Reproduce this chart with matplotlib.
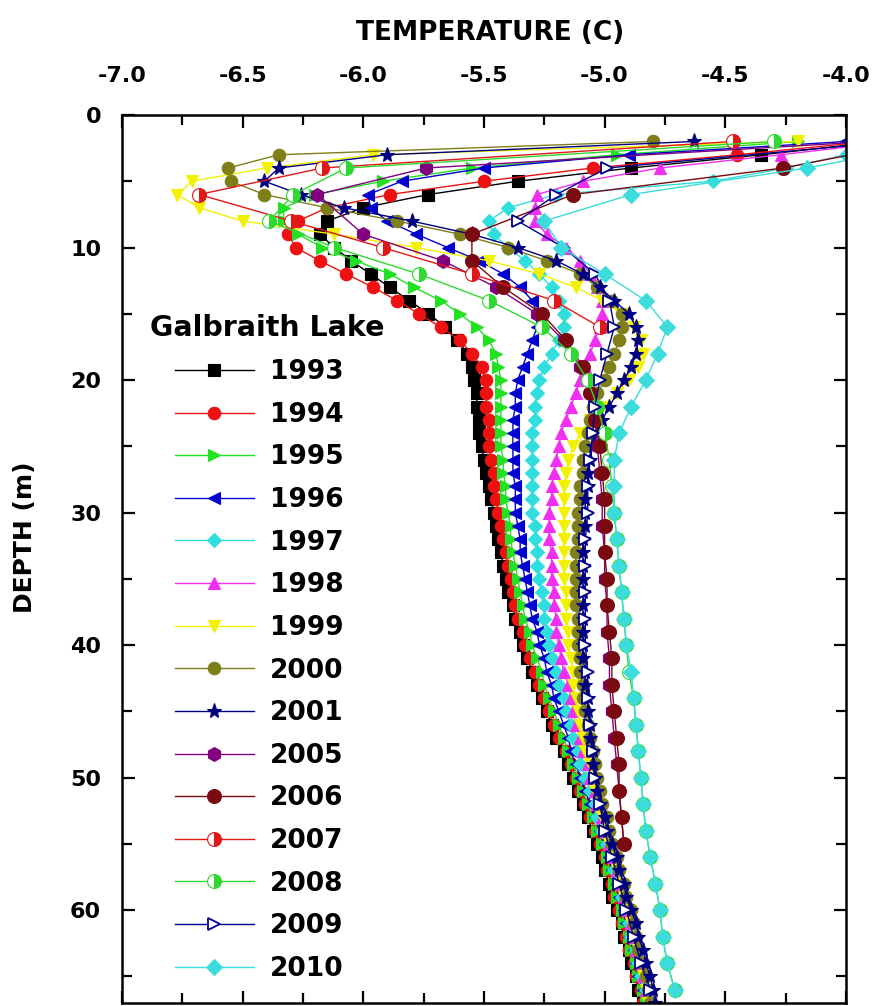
import matplotlib
matplotlib.use('Agg')
from matplotlib import pyplot as plt
from matplotlib.ticker import MultipleLocator

# depths (m)
depth_dense = list(range(2, 68))          # 1993-2001, 1 m spacing
depth_0506 = [2, 4, 6, 9, 11, 13, 15, 17, 19, 21, 23, 25, 27, 29, 31, 33, 35,
              37, 39, 41, 43, 45, 47, 49, 51, 53, 55]
depth_2007 = [2, 4, 6, 8, 10, 12, 14, 16]
depth_even = list(range(2, 67, 2))        # 2008-2010, 2 m spacing

# temperatures (C)
t1993 = [-3.85, -4.35, -4.89, -5.36, -5.73, -6.00, -6.15, -6.18, -6.12, -6.05, -5.97, -5.89, -5.81, -5.73, -5.66, -5.61, -5.57, -5.55,
         -5.54, -5.53, -5.53, -5.52, -5.52, -5.51, -5.50, -5.49, -5.48, -5.47,
         -5.46, -5.45, -5.44, -5.43, -5.42, -5.41, -5.40, -5.38, -5.37, -5.35,
         -5.34, -5.32, -5.30, -5.28, -5.26, -5.24, -5.22, -5.20, -5.17, -5.15,
         -5.13, -5.11, -5.09, -5.07, -5.05, -5.03, -5.01, -5.00, -4.98, -4.97,
         -4.95, -4.93, -4.92, -4.90, -4.89, -4.87, -4.86, -4.84]
t1994 = [-3.90, -4.45, -5.05, -5.50, -5.89, -6.15, -6.27, -6.31, -6.28, -6.18, -6.07, -5.96, -5.86, -5.77, -5.68, -5.60, -5.55, -5.51,
         -5.49, -5.49, -5.49, -5.48, -5.48, -5.48, -5.47, -5.46, -5.46, -5.45,
         -5.44, -5.43, -5.42, -5.41, -5.40, -5.39, -5.38, -5.37, -5.36, -5.34,
         -5.33, -5.31, -5.29, -5.27, -5.25, -5.23, -5.21, -5.19, -5.16, -5.14,
         -5.12, -5.10, -5.08, -5.06, -5.04, -5.02, -5.00, -4.99, -4.97, -4.96,
         -4.94, -4.93, -4.91, -4.90, -4.88, -4.87, -4.85, -4.84]
t1995 = [-4.20, -4.95, -5.55, -5.92, -6.20, -6.33, -6.33, -6.27, -6.17, -6.03, -5.89, -5.79, -5.68, -5.60, -5.53, -5.48, -5.45, -5.44,
         -5.43, -5.43, -5.43, -5.43, -5.43, -5.43, -5.42, -5.42, -5.41, -5.41,
         -5.40, -5.39, -5.39, -5.38, -5.37, -5.36, -5.35, -5.34, -5.33, -5.31,
         -5.30, -5.28, -5.26, -5.25, -5.23, -5.21, -5.19, -5.17, -5.15, -5.13,
         -5.11, -5.09, -5.07, -5.05, -5.03, -5.01, -4.99, -4.98, -4.96, -4.95,
         -4.93, -4.92, -4.90, -4.89, -4.87, -4.86, -4.84, -4.83]
t1996 = [-4.00, -4.90, -5.50, -5.84, -5.98, -5.97, -5.90, -5.78, -5.65, -5.52, -5.42, -5.35, -5.30, -5.28, -5.28, -5.30, -5.32, -5.34,
         -5.36, -5.37, -5.37, -5.38, -5.38, -5.38, -5.38, -5.38, -5.37, -5.37,
         -5.37, -5.36, -5.35, -5.35, -5.34, -5.33, -5.32, -5.31, -5.30, -5.28,
         -5.27, -5.25, -5.24, -5.22, -5.21, -5.19, -5.17, -5.15, -5.14, -5.12,
         -5.10, -5.08, -5.06, -5.04, -5.02, -5.00, -4.98, -4.97, -4.95, -4.94,
         -4.92, -4.91, -4.90, -4.88, -4.87, -4.86, -4.84, -4.83]
t1997 = [-3.70, -4.00, -4.25, -4.55, -5.20, -5.40, -5.48, -5.46, -5.40, -5.33, -5.27, -5.22, -5.19, -5.17, -5.17, -5.19, -5.22, -5.25,
         -5.27, -5.28, -5.29, -5.29, -5.30, -5.30, -5.30, -5.30, -5.30, -5.30,
         -5.30, -5.29, -5.29, -5.28, -5.28, -5.27, -5.26, -5.25, -5.25, -5.24,
         -5.23, -5.22, -5.20, -5.19, -5.17, -5.16, -5.14, -5.13, -5.11, -5.10,
         -5.08, -5.06, -5.04, -5.03, -5.01, -4.99, -4.97, -4.96, -4.94, -4.93,
         -4.91, -4.90, -4.89, -4.87, -4.86, -4.85, -4.83, -4.82]
t1998 = [-3.80, -4.27, -4.77, -5.09, -5.28, -5.29, -5.29, -5.24, -5.16, -5.10, -5.06, -5.03, -5.01, -5.01, -5.02, -5.04, -5.06, -5.08,
         -5.10, -5.12, -5.14, -5.16, -5.18, -5.19, -5.20, -5.21, -5.22, -5.22,
         -5.23, -5.23, -5.23, -5.22, -5.22, -5.22, -5.21, -5.21, -5.20, -5.20,
         -5.19, -5.18, -5.17, -5.15, -5.14, -5.13, -5.12, -5.10, -5.09, -5.07,
         -5.06, -5.04, -5.03, -5.01, -5.00, -4.98, -4.96, -4.95, -4.93, -4.92,
         -4.90, -4.89, -4.88, -4.87, -4.85, -4.84, -4.83, -4.82]
t1999 = [-4.20, -5.96, -6.40, -6.71, -6.77, -6.68, -6.50, -6.12, -5.78, -5.48, -5.27, -5.12, -5.01, -4.93, -4.88, -4.85, -4.84, -4.86,
         -4.90, -4.95, -5.01, -5.06, -5.10, -5.13, -5.15, -5.16, -5.17, -5.17,
         -5.17, -5.17, -5.17, -5.17, -5.17, -5.17, -5.16, -5.16, -5.16, -5.15,
         -5.15, -5.14, -5.13, -5.13, -5.12, -5.11, -5.10, -5.09, -5.08, -5.06,
         -5.05, -5.04, -5.02, -5.01, -4.99, -4.98, -4.96, -4.95, -4.93, -4.92,
         -4.90, -4.89, -4.88, -4.86, -4.85, -4.84, -4.83, -4.82]
t2000 = [-4.80, -6.35, -6.56, -6.55, -6.41, -6.15, -5.86, -5.60, -5.40, -5.24, -5.10, -5.03, -4.97, -4.93, -4.93, -4.94, -4.96, -4.98,
         -5.00, -5.03, -5.05, -5.06, -5.07, -5.08, -5.09, -5.09, -5.10, -5.10,
         -5.11, -5.11, -5.11, -5.12, -5.12, -5.12, -5.12, -5.12, -5.11, -5.11,
         -5.11, -5.10, -5.10, -5.09, -5.09, -5.08, -5.07, -5.06, -5.05, -5.04,
         -5.03, -5.02, -5.01, -4.99, -4.98, -4.97, -4.95, -4.94, -4.92, -4.91,
         -4.89, -4.88, -4.87, -4.86, -4.84, -4.83, -4.82, -4.81]
t2001 = [-4.63, -5.90, -6.35, -6.41, -6.26, -6.08, -5.80, -5.55, -5.36, -5.20, -5.09, -5.02, -4.96, -4.90, -4.87, -4.86, -4.87, -4.89,
         -4.92, -4.95, -4.98, -5.01, -5.03, -5.05, -5.06, -5.07, -5.07, -5.08,
         -5.08, -5.08, -5.09, -5.09, -5.09, -5.09, -5.09, -5.09, -5.09, -5.09,
         -5.09, -5.09, -5.08, -5.08, -5.07, -5.07, -5.06, -5.06, -5.05, -5.05,
         -5.04, -5.03, -5.02, -5.00, -4.99, -4.97, -4.95, -4.94, -4.92, -4.91,
         -4.89, -4.87, -4.86, -4.84, -4.83, -4.81, -4.80, -4.79]
t2005 = [-3.90, -5.74, -6.19, -6.00, -5.67, -5.45, -5.28, -5.17, -5.10, -5.06, -5.04, -5.03, -5.02, -5.01,
         -5.01, -5.00, -5.00, -4.99, -4.99, -4.98, -4.98, -4.97, -4.96, -4.95, -4.94, -4.93, -4.92]
t2006 = [-3.70, -4.26, -5.13, -5.55, -5.55, -5.42, -5.26, -5.16, -5.09, -5.06, -5.04, -5.02, -5.01, -5.00,
         -5.00, -5.00, -4.99, -4.99, -4.98, -4.97, -4.97, -4.96, -4.95, -4.94, -4.94, -4.93, -4.92]
t2007 = [-4.47, -6.17, -6.68, -6.30, -5.92, -5.55, -5.21, -5.02]
t2008 = [-4.30, -6.07, -6.29, -6.39, -6.12, -5.77, -5.48, -5.26, -5.14, -5.07,
         -5.03, -5.00, -4.98, -4.97, -4.96, -4.95, -4.94, -4.93, -4.92, -4.91,
         -4.90, -4.88, -4.87, -4.86, -4.85, -4.84, -4.83, -4.81, -4.79, -4.77,
         -4.76, -4.74, -4.71]
t2009 = [-3.80, -4.99, -5.20, -5.36, -5.17, -5.04, -4.98, -4.96, -4.99, -5.02,
         -5.04, -5.05, -5.06, -5.07, -5.07, -5.08, -5.08, -5.08, -5.08, -5.08,
         -5.07, -5.07, -5.06, -5.05, -5.04, -5.02, -5.00, -4.97, -4.94, -4.91,
         -4.88, -4.85, -4.81]
t2010 = [-3.60, -4.16, -4.89, -5.25, -5.18, -5.00, -4.83, -4.74, -4.78, -4.83,
         -4.89, -4.94, -4.96, -4.96, -4.96, -4.95, -4.94, -4.93, -4.92, -4.91,
         -4.89, -4.88, -4.87, -4.86, -4.85, -4.84, -4.83, -4.81, -4.79, -4.77,
         -4.76, -4.74, -4.71]

years = ['1993', '1994', '1995', '1996', '1997', '1998', '1999', '2000', '2001',
         '2005', '2006', '2007', '2008', '2009', '2010']
temps = [t1993, t1994, t1995, t1996, t1997, t1998, t1999, t2000, t2001,
         t2005, t2006, t2007, t2008, t2009, t2010]
depths = [depth_dense] * 9 + [depth_0506, depth_0506, depth_2007, depth_even, depth_even, depth_even]

# style per series: (color, marker, size, face, fillstyle)
styles = [
    ('black',   's', 8.5, None,    'full'),
    ('#ee1111', 'o', 9,   None,    'full'),
    ('#22e022', '>', 9,   None,    'full'),
    ('#0000d0', '<', 9,   None,    'full'),
    ('#30dede', 'D', 7.5, None,    'full'),
    ('#f030f0', '^', 9,   None,    'full'),
    ('#f2f200', 'v', 9,   None,    'full'),
    ('#7f7f1a', 'o', 9,   None,    'full'),
    ('#000080', '*', 11,  None,    'full'),
    ('#800080', 'h', 10,  None,    'full'),
    ('#7a0a10', 'o', 10,  None,    'full'),
    ('#e01818', 'o', 10,  None,    'right'),
    ('#30d830', 'o', 10,  None,    'right'),
    ('#00008a', '>', 8.5, 'white', 'full'),
    ('#3cdcdc', 'D', 8.5, None,    'full'),
]

fig = plt.figure(figsize=(8.75, 10.06), dpi=100)
ax = fig.add_axes([0.1394, 0.003, 0.8274, 0.8827])

handles = []
for yr, t, d, st in zip(years, temps, depths, styles):
    col, mk, ms, face, fs = st
    kw = dict(color=col, lw=1.0, marker=mk, markersize=ms, markeredgecolor=col,
              markeredgewidth=0.8, label=yr)
    if face is not None:
        kw['markerfacecolor'] = face
        kw['markeredgewidth'] = 1.3
    if fs != 'full':
        kw['fillstyle'] = fs
        kw['markerfacecoloralt'] = 'white'
    h, = ax.plot(t, d, **kw)
    handles.append(h)

ax.set_xlim(-7.0, -4.0)
ax.set_ylim(67, 0)
ax.xaxis.set_major_locator(MultipleLocator(0.5))
ax.xaxis.set_minor_locator(MultipleLocator(0.25))
ax.yaxis.set_major_locator(MultipleLocator(10))
ax.yaxis.set_minor_locator(MultipleLocator(5))
ax.xaxis.set_major_formatter(plt.FormatStrFormatter('%.1f'))
ax.tick_params(which='both', direction='in', top=True, bottom=True, left=True, right=True,
               labeltop=True, labelbottom=False, width=1.6)
ax.tick_params(which='major', length=9)
ax.tick_params(which='minor', length=7)
ax.tick_params(axis='x', which='major', pad=21, labelsize=16)
ax.tick_params(axis='y', which='major', pad=15, labelsize=16)
for lab in ax.get_xticklabels() + ax.get_yticklabels():
    lab.set_fontweight('bold')
for sp in ax.spines.values():
    sp.set_linewidth(1.8)

ax.set_xlabel('TEMPERATURE (C)', fontsize=19, fontweight='bold')
ax.xaxis.set_label_position('top')
ax.xaxis.set_label_coords(0.508, 1.084)
ax.set_ylabel('DEPTH (m)', fontsize=18, fontweight='bold')
ax.yaxis.set_label_coords(-0.117, 0.525)

ax.text(0.039, 0.760, 'Galbraith Lake', transform=ax.transAxes, fontsize=20.5,
        fontweight='bold', va='center', ha='left')
leg = ax.legend(handles=handles, loc='upper left', bbox_to_anchor=(0.073, 0.725),
                frameon=False, numpoints=1, handlelength=3.0, handletextpad=0.6,
                labelspacing=0.63, borderpad=0, borderaxespad=0,
                prop={'size': 19, 'weight': 'bold'})

fig.savefig('out.png', dpi=100)
